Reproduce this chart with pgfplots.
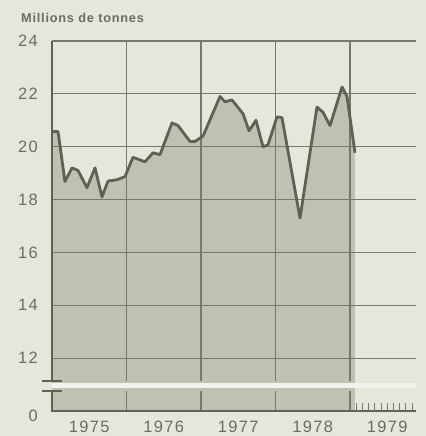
\documentclass[border=0pt]{standalone}
\usepackage{fontspec}
\setmainfont{Liberation Sans}
\newfontfamily\tickfont[LetterSpace=8]{Liberation Sans}
\newfontfamily\titlefont[LetterSpace=6]{Liberation Sans Bold}
\usepackage{pgfplots}
\usepackage{pgfplotstable}
\pgfplotsset{compat=1.18}

\definecolor{bg}{HTML}{E4E7DC}
\definecolor{area}{HTML}{BEC2B0}
\definecolor{ln}{HTML}{5E6255}
\definecolor{grd}{HTML}{767A6C}
\definecolor{txt}{HTML}{6A6E62}

% monthly production, millions of tonnes; the axis is broken below 12,
% so values are plotted shifted by -10 and years counted from 1975
\pgfplotstableread{
x        y
1975.000 20.57
1975.081 20.57
1975.174 18.68
1975.268 19.20
1975.349 19.10
1975.470 18.45
1975.577 19.20
1975.671 18.10
1975.752 18.70
1975.872 18.75
1975.980 18.87
1976.087 19.60
1976.248 19.43
1976.356 19.77
1976.450 19.70
1976.611 20.90
1976.691 20.80
1976.852 20.20
1976.919 20.20
1977.027 20.40
1977.255 21.90
1977.322 21.70
1977.416 21.77
1977.564 21.25
1977.644 20.60
1977.738 21.00
1977.832 20.00
1977.899 20.07
1978.020 21.13
1978.087 21.10
1978.329 17.30
1978.557 21.50
1978.638 21.30
1978.732 20.80
1978.893 22.26
1978.960 21.90
1979.067 19.77
}\prod

\begin{document}
\begin{tikzpicture}
\useasboundingbox[fill=bg] (0,0) rectangle (426bp,436bp);
\node[anchor=base west, inner sep=0, text=txt,
      font=\titlefont\fontsize{12.8}{12.8}\selectfont] at (21bp,413bp) {Millions de tonnes};

\begin{axis}[
    at={(52bp,25bp)}, anchor=south west,
    scale only axis, width=364bp, height=370bp,
    xmin=0, xmax=4.886, ymin=0, ymax=14,
    axis line style={draw=none},
    clip=false,
    major tick length=0,
    xtick={0.5,1.5,2.5,3.5,4.5},
    xticklabels={1975,1976,1977,1978,1979},
    ytick={2,4,...,14},
    yticklabels={12,14,16,18,20,22,24},
    extra y ticks={0}, extra y tick labels={0},
    extra y tick style={yticklabel style={yshift=-5bp}},
    tick label style={font=\tickfont\fontsize{16.5}{16.5}\selectfont, text=txt, inner sep=0},
    xticklabel style={anchor=north, yshift=-10bp},
    yticklabel style={anchor=east, xshift=-14bp},
]
\addplot[draw=none, fill=area] table[x expr=\thisrow{x}-1975, y expr=\thisrow{y}-10] {\prod} \closedcycle;

% break band
\fill[white, opacity=0.8] (axis cs:0,0.87) rectangle (axis cs:4.07,1.06);
\fill[white, opacity=0.45] (axis cs:4.07,0.87) rectangle (axis cs:4.886,1.06);

% horizontal grid
\draw[grd, line width=1.1bp] (axis cs:0,2) -- (axis cs:4.886,2);
\draw[grd, line width=1.1bp] (axis cs:0,4) -- (axis cs:4.886,4);
\draw[grd, line width=1.1bp] (axis cs:0,6) -- (axis cs:4.886,6);
\draw[grd, line width=1.1bp] (axis cs:0,8) -- (axis cs:4.886,8);
\draw[grd, line width=1.1bp] (axis cs:0,10) -- (axis cs:4.886,10);
\draw[grd, line width=1.1bp] (axis cs:0,12) -- (axis cs:4.886,12);
\draw[grd, line width=1.3bp] (axis cs:0,14) -- (axis cs:4.886,14);

% vertical grid, broken at the axis break
\draw[grd, line width=1.3bp] (axis cs:1,1.13) -- (axis cs:1,14);
\draw[grd, line width=1.3bp] (axis cs:2,1.13) -- (axis cs:2,14);
\draw[grd, line width=1.3bp] (axis cs:3,1.13) -- (axis cs:3,14);
\draw[grd, line width=1.3bp] (axis cs:4,1.13) -- (axis cs:4,14);
\draw[grd, line width=1.3bp] (axis cs:1,0) -- (axis cs:1,0.755);
\draw[grd, line width=1.3bp] (axis cs:2,0) -- (axis cs:2,0.755);
\draw[grd, line width=1.3bp] (axis cs:3,0) -- (axis cs:3,0.755);
\draw[grd, line width=1.3bp] (axis cs:4,0) -- (axis cs:4,0.755);

% left spine with break marks, bottom line
\draw[ln, line width=1.8bp] (axis cs:0,1.13) -- (axis cs:0,14);
\draw[ln, line width=1.8bp] (axis cs:0,0.755) -- (axis cs:0,0) -- (axis cs:4.886,0);
\draw[ln, line width=1.6bp] (axis cs:-0.134,0.755) -- (axis cs:0.134,0.755);
\draw[ln, line width=1.6bp] (axis cs:-0.134,1.13) -- (axis cs:0.134,1.13);

% monthly ticks for 1979
\draw[grd, line width=1bp] (axis cs:4.083,0) -- (axis cs:4.083,0.3);
\draw[grd, line width=1bp] (axis cs:4.167,0) -- (axis cs:4.167,0.3);
\draw[grd, line width=1bp] (axis cs:4.250,0) -- (axis cs:4.250,0.3);
\draw[grd, line width=1bp] (axis cs:4.333,0) -- (axis cs:4.333,0.3);
\draw[grd, line width=1bp] (axis cs:4.417,0) -- (axis cs:4.417,0.3);
\draw[grd, line width=1bp] (axis cs:4.500,0) -- (axis cs:4.500,0.3);
\draw[grd, line width=1bp] (axis cs:4.583,0) -- (axis cs:4.583,0.3);
\draw[grd, line width=1bp] (axis cs:4.667,0) -- (axis cs:4.667,0.3);
\draw[grd, line width=1bp] (axis cs:4.750,0) -- (axis cs:4.750,0.3);
\draw[grd, line width=1bp] (axis cs:4.833,0) -- (axis cs:4.833,0.3);

\addplot[ln, line width=2.8bp, line join=round] table[x expr=\thisrow{x}-1975, y expr=\thisrow{y}-10] {\prod};
\end{axis}
\end{tikzpicture}
\end{document}
